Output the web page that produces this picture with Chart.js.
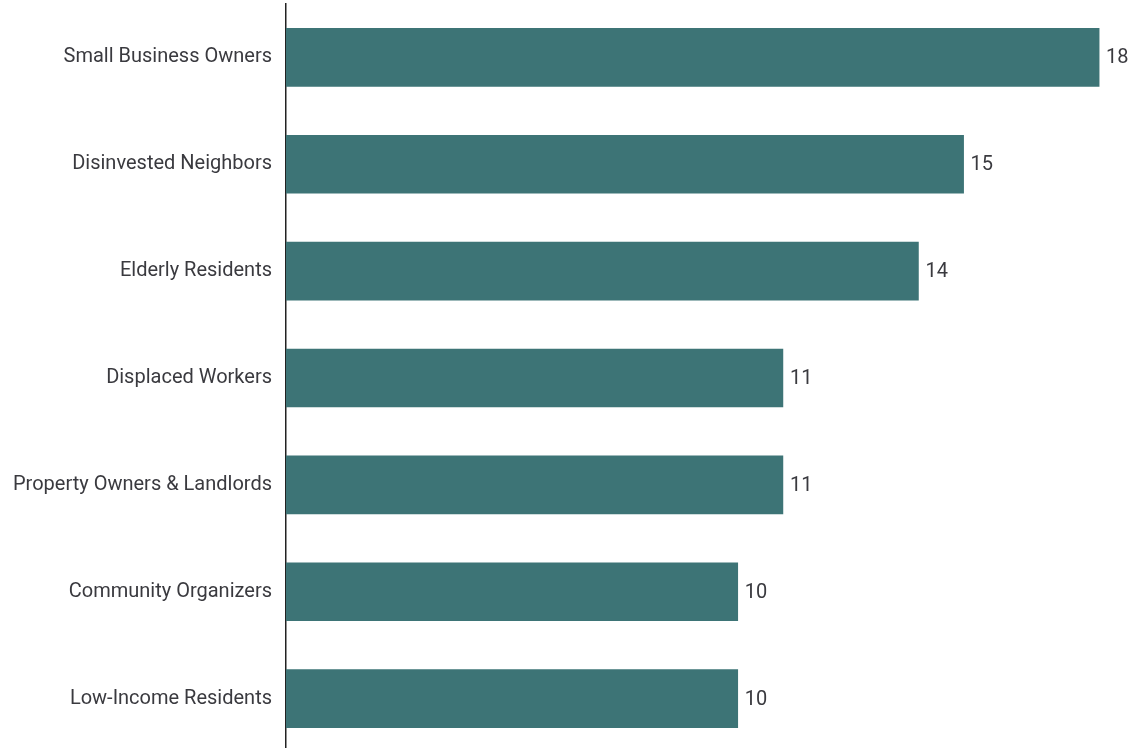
<!DOCTYPE html>
<html lang="en">
<head>
    <meta charset="UTF-8">
    <title>Stakeholder Groups</title>
    <script src="https://cdn.jsdelivr.net/npm/chart.js"></script>
    <style>
        html, body { margin: 0; padding: 0; background: #fff; overflow: hidden; }
        #wrap { width: 1133px; height: 752px; position: relative; }
    </style>
</head>
<body>
    <div id="wrap"><canvas id="barChart"></canvas></div>

    <script>
        const groups = [
            'Small Business Owners',
            'Disinvested Neighbors',
            'Elderly Residents',
            'Displaced Workers',
            'Property Owners & Landlords',
            'Community Organizers',
            'Low-Income Residents'
        ];
        const counts = [18, 15, 14, 11, 11, 10, 10];

        const barColor = '#3d7476';
        const textColor = '#3a3a3f';

        // writes the count just past the end of each bar
        const valueLabels = {
            id: 'valueLabels',
            afterDatasetsDraw(chart) {
                const ctx = chart.ctx;
                const meta = chart.getDatasetMeta(0);
                ctx.save();
                ctx.font = '20px Roboto';
                ctx.fillStyle = textColor;
                ctx.textAlign = 'left';
                ctx.textBaseline = 'middle';
                meta.data.forEach((bar, i) => {
                    ctx.fillText(counts[i], bar.x + 7, bar.y + 1);
                });
                ctx.restore();
            }
        };

        new Chart(document.getElementById('barChart'), {
            type: 'bar',
            data: {
                labels: groups,
                datasets: [{
                    data: counts,
                    backgroundColor: barColor,
                    borderWidth: 0,
                    barThickness: 58
                }]
            },
            options: {
                indexAxis: 'y',
                responsive: true,
                maintainAspectRatio: false,
                animation: false,
                layout: { padding: { top: 4, right: 0, bottom: 0, left: 0 } },
                plugins: {
                    legend: { display: false },
                    tooltip: { enabled: false }
                },
                scales: {
                    x: {
                        display: false,
                        min: 0,
                        max: 18.75
                    },
                    y: {
                        grid: { display: false, drawTicks: false },
                        border: { display: true, color: '#222', width: 1.5 },
                        ticks: {
                            color: textColor,
                            padding: 14,
                            font: { family: 'Roboto', size: 20 }
                        },
                        afterFit(scale) {
                            scale.width = 286;
                            scale.paddingTop = 0;
                            scale.paddingBottom = 0;
                        }
                    }
                }
            },
            plugins: [valueLabels]
        });
    </script>
</body>
</html>
